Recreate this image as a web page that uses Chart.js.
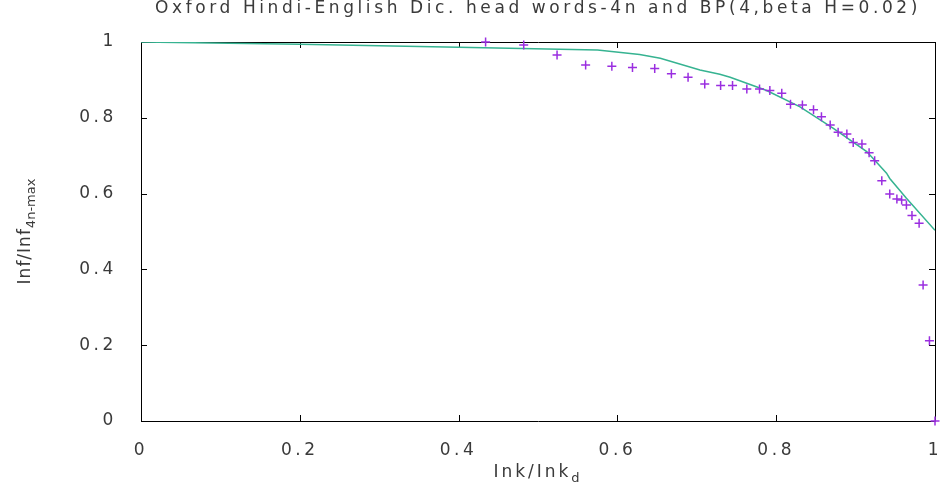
<!DOCTYPE html>
<html><head><meta charset="utf-8">
<script src="https://cdn.jsdelivr.net/npm/chart.js@4/dist/chart.umd.min.js"></script>
<style>html,body{margin:0;padding:0;background:#fff}#wrap{width:943px;height:490px}</style>
</head><body><div id="wrap"><canvas id="c" width="943" height="490"></canvas></div>
<script>
const titleText = 'Oxford Hindi-English Dic. head words-4n and BP(4,beta H=0.02)';
const xAxisLabel = ['Ink/Ink', 'd'];
const yAxisLabel = ['Inf/Inf', '4n-max'];
const xTicks = [0, 0.2, 0.4, 0.6, 0.8, 1];
const yTicks = [0, 0.2, 0.4, 0.6, 0.8, 1];

// observed points (purple +)
const dataX = [0.434,0.482,0.524,0.560,0.593,0.619,0.647,0.668,0.689,0.710,0.730,0.745,0.763,0.779,0.792,0.807,0.818,0.833,0.847,0.857,0.868,0.878,0.889,0.897,0.908,0.917,0.924,0.933,0.943,0.952,0.958,0.964,0.971,0.980,0.985,0.993,1.0];
const dataY = [1.0,0.992,0.966,0.939,0.936,0.933,0.930,0.916,0.907,0.889,0.885,0.885,0.876,0.876,0.872,0.865,0.836,0.834,0.821,0.803,0.781,0.762,0.757,0.735,0.731,0.708,0.687,0.634,0.599,0.586,0.583,0.570,0.542,0.522,0.359,0.212,0.0];

// model curve (green line)
const modelX = [0,0.2,0.4,0.575,0.628,0.654,0.704,0.729,0.742,0.788,0.830,0.872,0.914,0.939,0.943,0.964,1.0];
const modelY = [1.0,0.994,0.986,0.979,0.967,0.957,0.926,0.915,0.907,0.872,0.829,0.772,0.711,0.654,0.640,0.588,0.503];

const textColor = '#3a3a3a';
const FONT = '"DejaVu Sans", sans-serif';

const framePlugin = {
  id: 'frame',
  beforeDraw(chart) { chart.ctx.letterSpacing = '3.6px'; },
  beforeDatasetsDraw(chart) {
    const {ctx, chartArea: a, scales} = chart;
    ctx.save();
    ctx.letterSpacing = '0px';
    ctx.strokeStyle = '#000';
    ctx.lineWidth = 1;
    ctx.beginPath();
    ctx.rect(Math.round(a.left) + 0.5, Math.round(a.top) + 0.5, Math.round(a.right - a.left), Math.round(a.bottom - a.top));
    ctx.stroke();
    const tl = 6;
    ctx.beginPath();
    xTicks.forEach(v => {
      const x = Math.round(scales.x.getPixelForValue(v)) + 0.5;
      ctx.moveTo(x, a.bottom); ctx.lineTo(x, a.bottom - tl);
      ctx.moveTo(x, a.top); ctx.lineTo(x, a.top + tl);
    });
    yTicks.forEach(v => {
      const y = Math.round(scales.y.getPixelForValue(v)) + 0.5;
      ctx.moveTo(a.left, y); ctx.lineTo(a.left + tl, y);
      ctx.moveTo(a.right, y); ctx.lineTo(a.right - tl, y);
    });
    ctx.stroke();
    ctx.restore();
  },
  afterDraw(chart) {
    const {ctx, chartArea: a} = chart;
    ctx.save();
    ctx.fillStyle = textColor;
    ctx.textBaseline = 'alphabetic';
    ctx.textAlign = 'left';
    const mainF = '17px ' + FONT, subF = '13px ' + FONT;
    // x axis title
    ctx.letterSpacing = '3px';
    ctx.font = mainF; const w1 = ctx.measureText(xAxisLabel[0]).width;
    ctx.font = subF; const w2 = ctx.measureText(xAxisLabel[1]).width;
    let sx = (a.left + a.right) / 2 - (w1 + w2) / 2;
    ctx.font = mainF; ctx.fillText(xAxisLabel[0], sx, 477);
    ctx.font = subF; ctx.fillText(xAxisLabel[1], sx + w1, 482);
    // y axis title
    ctx.letterSpacing = '1px';
    ctx.font = mainF; const h1 = ctx.measureText(yAxisLabel[0]).width;
    ctx.letterSpacing = '0px';
    ctx.font = subF; const h2 = ctx.measureText(yAxisLabel[1]).width;
    ctx.translate(30, (a.top + a.bottom) / 2);
    ctx.rotate(-Math.PI / 2);
    const sy = -(h1 + h2) / 2;
    ctx.letterSpacing = '1px';
    ctx.font = mainF; ctx.fillText(yAxisLabel[0], sy, 0);
    ctx.letterSpacing = '0px';
    ctx.font = subF; ctx.fillText(yAxisLabel[1], sy + h1, 5);
    ctx.restore();
    ctx.letterSpacing = '0px';
  }
};

new Chart(document.getElementById('c'), {
  type: 'scatter',
  data: {
    datasets: [
      {
        label: 'data',
        data: dataX.map((x, i) => ({x, y: dataY[i]})),
        pointStyle: 'cross',
        pointRadius: 4.5,
        pointBorderWidth: 1.5,
        borderColor: '#9a2ee0',
        backgroundColor: '#9a2ee0',
        showLine: false,
        clip: 10,
        order: 1
      },
      {
        label: 'model',
        data: modelX.map((x, i) => ({x, y: modelY[i]})),
        showLine: true,
        borderColor: '#36b391',
        borderWidth: 1.5,
        pointRadius: 0,
        tension: 0,
        fill: false,
        order: 2
      }
    ]
  },
  options: {
    responsive: false,
    devicePixelRatio: 1,
    animation: false,
    layout: { padding: { left: 0, right: 8, top: 0, bottom: 0 } },
    plugins: {
      legend: { display: false },
      tooltip: { enabled: false },
      title: {
        display: true,
        text: titleText,
        fullSize: false,
        color: textColor,
        font: { family: FONT, size: 17, weight: 'normal', lineHeight: 1.0 },
        padding: { top: 0, bottom: 25 }
      }
    },
    scales: {
      x: {
        type: 'linear', min: 0, max: 1,
        afterBuildTicks: s => { s.ticks = xTicks.map(v => ({value: v})); },
        afterFit: s => { s.height = 69; s.paddingLeft = 0; s.paddingRight = 0; },
        grid: { display: false, drawTicks: false },
        border: { display: false },
        ticks: { color: textColor, font: { family: FONT, size: 17 }, padding: 19, maxRotation: 0, callback: v => String(v) }
      },
      y: {
        type: 'linear', min: 0, max: 1,
        afterBuildTicks: s => { s.ticks = yTicks.map(v => ({value: v})); },
        afterFit: s => { s.width = 141; s.paddingTop = 0; s.paddingBottom = 0; },
        grid: { display: false, drawTicks: false },
        border: { display: false },
        ticks: { color: textColor, font: { family: FONT, size: 17 }, padding: 24, callback: v => String(v) }
      }
    }
  },
  plugins: [framePlugin]
});
</script>
</body></html>
